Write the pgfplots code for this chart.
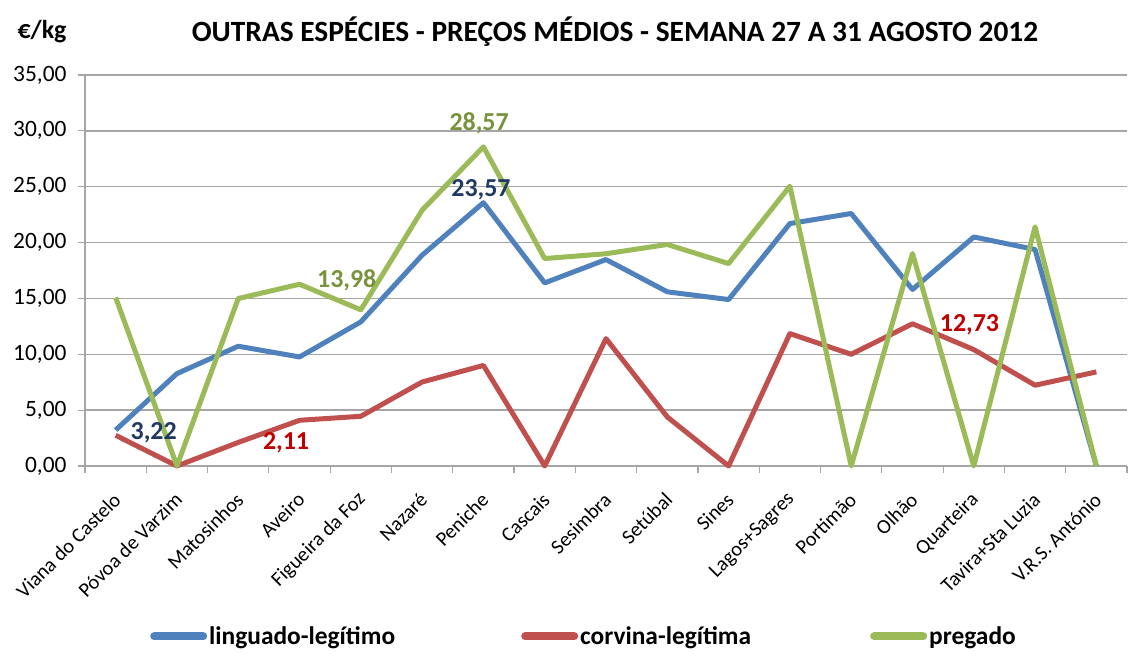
\documentclass[border=0pt]{standalone}
\usepackage{fontspec}
\setmainfont{Carlito}
\usepackage{pgfplots}
\pgfplotsset{compat=1.18}
\definecolor{cblue}{HTML}{4F81BD}
\definecolor{cred}{HTML}{C0504D}
\definecolor{cgreen}{HTML}{9BBB59}
\definecolor{lblue}{HTML}{1F3864}
\definecolor{lred}{HTML}{C00000}
\definecolor{lgreen}{HTML}{77933C}
\definecolor{gridc}{HTML}{A6A6A6}
\begin{document}
\begin{tikzpicture}[x=1bp,y=1bp]
\useasboundingbox (0,0) rectangle (1128,654);
\node[font=\bfseries\fontsize{29.5}{29.5}\selectfont] at (615,622) {OUTRAS ESPÉCIES - PREÇOS MÉDIOS - SEMANA 27 A 31 AGOSTO 2012};
\node[font=\bfseries\fontsize{26}{26}\selectfont] at (42,622) {€/kg};
\begin{axis}[
  at={(85bp,188bp)}, anchor=south west,
  scale only axis, width=1042bp, height=391bp,
  xmin=-0.5, xmax=16.5, ymin=0, ymax=35,
  clip=false,
  axis lines*=left,
  axis line style={gridc, line width=1.5bp},
  ytick={0,5,...,35},
  ymajorgrids,
  grid style={gridc, line width=1.5bp},
  tick align=outside,
  major tick length=7bp,
  tick style={gridc, line width=1.2bp},
  xtick={-0.5,0.5,...,16.5},
  xticklabels={},
  extra x ticks={0,1,...,16},
  extra x tick labels={Viana do Castelo,Póvoa de Varzim,Matosinhos,Aveiro,Figueira da Foz,Nazaré,Peniche,Cascais,Sesimbra,Setúbal,Sines,Lagos+Sagres,Portimão,Olhão,Quarteira,Tavira+Sta Luzia,V.R.S. António},
  extra x tick style={major tick length=0pt},
  xticklabel style={font=\fontsize{20.5}{20.5}\selectfont, yshift=-28bp, xshift=4bp, rotate=45, anchor=east},
  yticklabel style={font=\fontsize{23.5}{23.5}\selectfont, xshift=-8bp},
  /pgf/number format/.cd, fixed, fixed zerofill, precision=2, use comma, assume math mode=true,
  /pgfplots/.cd,
  every axis plot/.append style={line width=5bp, line join=round},
  legend columns=3,
  legend style={at={(0.0624,-0.436)}, anchor=west, draw=none, fill=none, inner sep=0pt,
    font=\bfseries\fontsize{25.5}{25.5}\selectfont, column sep=0pt},
  legend image code/.code={\draw[#1, line width=8bp, line cap=round] (4bp,0bp) -- (53bp,0bp);},
]
\addplot[cblue] coordinates {(0,3.22) (1,8.27) (2,10.72) (3,9.76) (4,12.9) (5,18.87) (6,23.57) (7,16.39) (8,18.48) (9,15.59) (10,14.9) (11,21.7) (12,22.6) (13,15.8) (14,20.5) (15,19.38) (16,0)};
\addlegendentry{\makebox[310bp][l]{linguado-legítimo}}
\addplot[cred] coordinates {(0,2.75) (1,0) (2,2.11) (3,4.09) (4,4.45) (5,7.52) (6,9.0) (7,0) (8,11.4) (9,4.39) (10,0) (11,11.85) (12,10.0) (13,12.73) (14,10.42) (15,7.23) (16,8.42)};
\addlegendentry{\makebox[288bp][l]{corvina-legítima}}
\addplot[cgreen] coordinates {(0,15.08) (1,0) (2,14.99) (3,16.27) (4,13.98) (5,22.9) (6,28.57) (7,18.57) (8,19.0) (9,19.83) (10,18.12) (11,25.05) (12,0) (13,19.02) (14,0) (15,21.41) (16,0)};
\addlegendentry{pregado}
\node[font=\bfseries\fontsize{26}{26}\selectfont, text=lblue] at (axis cs:0.62,2.95) {3,22};
\node[font=\bfseries\fontsize{26}{26}\selectfont, text=lblue] at (axis cs:5.96,24.77) {23,57};
\node[font=\bfseries\fontsize{26}{26}\selectfont, text=lred] at (axis cs:2.78,2.06) {2,11};
\node[font=\bfseries\fontsize{26}{26}\selectfont, text=lred] at (axis cs:13.93,12.62) {12,73};
\node[font=\bfseries\fontsize{26}{26}\selectfont, text=lgreen] at (axis cs:3.77,16.65) {13,98};
\node[font=\bfseries\fontsize{26}{26}\selectfont, text=lgreen] at (axis cs:5.93,30.68) {28,57};
\end{axis}
\end{tikzpicture}
\end{document}
